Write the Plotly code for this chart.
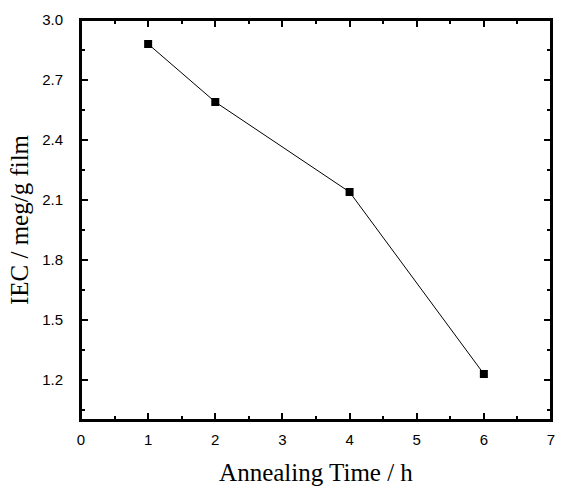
import plotly.graph_objects as go

annealing_time = [1, 2, 4, 6]
iec = [2.88, 2.59, 2.14, 1.23]
x_ticks = [0, 1, 2, 3, 4, 5, 6, 7]
y_ticks = [1.2, 1.5, 1.8, 2.1, 2.4, 2.7, 3.0]

fig = go.Figure()
fig.add_trace(go.Scatter(
    x=annealing_time, y=iec, mode="lines+markers",
    line=dict(color="black", width=1),
    marker=dict(symbol="square", size=8, color="black"),
    showlegend=False, cliponaxis=False,
))

common = dict(
    showgrid=False, zeroline=False, showline=True, linecolor="black", linewidth=2,
    mirror="allticks", ticks="inside", ticklen=7, tickwidth=2, tickcolor="black",
    tickfont=dict(family="Liberation Sans, Arial", size=15, color="black"),
)
title_font = dict(family="Liberation Serif, Times New Roman", size=25, color="black")

fig.update_xaxes(
    range=[0, 7], tickvals=x_ticks, ticktext=[str(v) for v in x_ticks],
    minor=dict(ticks="inside", ticklen=4, tickwidth=2, tickcolor="black", tick0=0.5, dtick=1),
    ticklabelstandoff=5,
    title=dict(text="Annealing Time / h", font=title_font, standoff=16),
    **common,
)
fig.update_yaxes(
    range=[1.0, 3.0], tickvals=y_ticks, ticktext=[f"{v:.1f}" for v in y_ticks],
    minor=dict(ticks="inside", ticklen=4, tickwidth=2, tickcolor="black", tick0=1.05, dtick=0.3),
    ticklabelstandoff=13,
    title=dict(text="IEC / meg/g film", font=title_font, standoff=6),
    **common,
)

fig.add_shape(type="rect", xref="paper", yref="paper", x0=0, y0=0, x1=1, y1=1,
              line=dict(color="black", width=2), layer="above")

fig.update_layout(
    width=561, height=491,
    margin=dict(l=81, r=10, t=20, b=71, autoexpand=False),
    paper_bgcolor="white", plot_bgcolor="white",
)

fig.write_html("out.html", config={"displayModeBar": False},
               post_script="document.body.style.margin='0';")
